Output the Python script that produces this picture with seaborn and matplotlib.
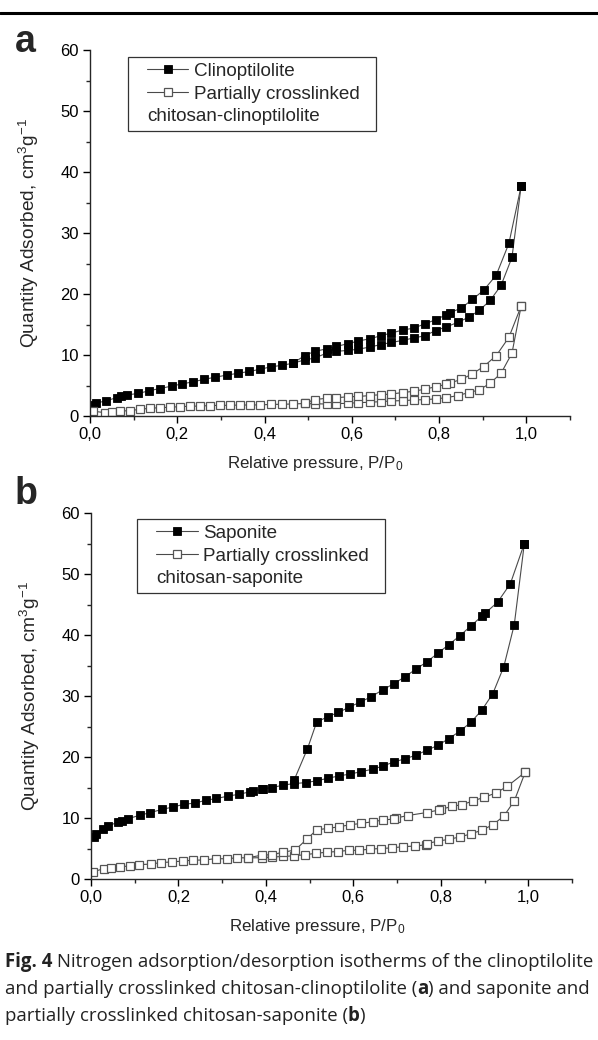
import matplotlib
matplotlib.use("Agg")
import matplotlib.pyplot as plt
import seaborn as sns
import numpy as np
import pandas as pd
from matplotlib.lines import Line2D
from matplotlib.ticker import MultipleLocator, FuncFormatter
from matplotlib.offsetbox import HPacker, DrawingArea

# ---------------- data (panel a) ----------------
clino_ads_p = [0.005, 0.014, 0.037, 0.061, 0.071, 0.084, 0.111, 0.136, 0.160, 0.187, 0.210, 0.236,
               0.261, 0.286, 0.313, 0.339, 0.365, 0.389, 0.414, 0.439, 0.465, 0.492, 0.515, 0.542,
               0.564, 0.591, 0.615, 0.641, 0.666, 0.690, 0.717, 0.742, 0.767, 0.792, 0.816, 0.843,
               0.868, 0.892, 0.917, 0.942, 0.967, 0.988]
clino_ads_q = [1.8, 2.1, 2.5, 3.0, 3.3, 3.45, 3.7, 4.15, 4.5, 4.9, 5.25, 5.6,
               6.0, 6.35, 6.7, 7.0, 7.3, 7.65, 8.05, 8.3, 8.65, 9.2, 9.5, 10.3,
               10.6, 10.75, 10.95, 11.3, 11.7, 12.05, 12.4, 12.8, 13.15, 14.0, 14.6, 15.35,
               16.2, 17.3, 18.95, 21.4, 26.0, 37.7]
clino_des_p = [0.988, 0.960, 0.931, 0.902, 0.876, 0.851, 0.824, 0.816, 0.793, 0.767, 0.742,
               0.717, 0.690, 0.666, 0.641, 0.615, 0.591, 0.564, 0.542, 0.515, 0.492, 0.465]
clino_des_q = [37.7, 28.3, 23.1, 20.6, 19.1, 17.7, 16.9, 16.6, 15.8, 15.1, 14.4,
               14.1, 13.6, 13.15, 12.65, 12.3, 11.85, 11.4, 11.0, 10.6, 9.9, 8.65]

cclino_ads_p = [0.006, 0.034, 0.050, 0.069, 0.092, 0.114, 0.137, 0.160, 0.183, 0.206, 0.229,
                0.252, 0.275, 0.297, 0.320, 0.343, 0.366, 0.389, 0.414, 0.439, 0.465, 0.492,
                0.515, 0.542, 0.564, 0.591, 0.615, 0.641, 0.666, 0.690, 0.717, 0.742, 0.767,
                0.792, 0.816, 0.843, 0.868, 0.892, 0.917, 0.942, 0.967, 0.988]
cclino_ads_q = [0.8, 0.55, 0.65, 0.82, 0.87, 1.1, 1.26, 1.37, 1.43, 1.54, 1.59,
                1.64, 1.7, 1.75, 1.75, 1.8, 1.8, 1.82, 1.9, 1.92, 1.97, 2.05,
                2.0, 1.97, 2.03, 2.08, 2.19, 2.25, 2.36, 2.47, 2.52, 2.63, 2.68,
                2.8, 3.0, 3.35, 3.84, 4.28, 5.37, 7.0, 10.3, 18.0]
cclino_des_p = [0.988, 0.960, 0.931, 0.902, 0.876, 0.851, 0.824, 0.816, 0.793, 0.767, 0.742,
                0.717, 0.690, 0.666, 0.641, 0.615, 0.591, 0.564, 0.542, 0.515, 0.492]
cclino_des_q = [18.0, 12.9, 9.9, 8.1, 6.9, 6.0, 5.4, 5.2, 4.8, 4.4, 4.05,
                3.85, 3.6, 3.5, 3.35, 3.2, 3.15, 3.0, 2.9, 2.7, 2.05]

# ---------------- data (panel b) ----------------
sapo_ads_p = [0.008, 0.011, 0.027, 0.040, 0.062, 0.070, 0.085, 0.112, 0.136, 0.162, 0.187, 0.213,
              0.238, 0.262, 0.287, 0.314, 0.339, 0.364, 0.370, 0.390, 0.394, 0.415, 0.440, 0.465,
              0.491, 0.516, 0.541, 0.567, 0.592, 0.618, 0.644, 0.667, 0.693, 0.718, 0.743, 0.768,
              0.793, 0.818, 0.843, 0.869, 0.894, 0.919, 0.944, 0.968, 0.991]
sapo_ads_q = [6.9, 7.3, 8.25, 8.7, 9.35, 9.5, 9.9, 10.45, 10.9, 11.4, 11.8, 12.25,
              12.45, 12.9, 13.2, 13.6, 13.9, 14.3, 14.45, 14.7, 14.8, 15.0, 15.4, 15.65,
              15.8, 16.1, 16.5, 16.9, 17.2, 17.6, 18.0, 18.5, 19.2, 19.7, 20.3, 21.1,
              21.9, 23.0, 24.2, 25.7, 27.7, 30.4, 34.8, 41.7, 55.0]
sapo_des_p = [0.991, 0.959, 0.930, 0.902, 0.894, 0.869, 0.844, 0.818, 0.793, 0.768, 0.743,
              0.717, 0.692, 0.667, 0.641, 0.616, 0.591, 0.566, 0.541, 0.516, 0.495, 0.465]
sapo_des_q = [55.0, 48.4, 45.4, 43.6, 43.1, 41.5, 39.9, 38.4, 37.0, 35.6, 34.4,
              33.1, 32.0, 31.0, 29.9, 29.0, 28.2, 27.3, 26.6, 25.7, 21.35, 16.3]

csapo_ads_p = [0.005, 0.030, 0.046, 0.067, 0.090, 0.110, 0.137, 0.160, 0.186, 0.210, 0.234,
               0.259, 0.285, 0.310, 0.335, 0.360, 0.390, 0.415, 0.440, 0.465, 0.490, 0.515,
               0.539, 0.564, 0.589, 0.613, 0.638, 0.663, 0.688, 0.714, 0.740, 0.765, 0.768,
               0.793, 0.818, 0.844, 0.869, 0.894, 0.919, 0.944, 0.968, 0.993]
csapo_ads_q = [1.2, 1.7, 1.85, 1.95, 2.2, 2.35, 2.45, 2.7, 2.8, 2.95, 3.1,
               3.1, 3.35, 3.3, 3.5, 3.45, 3.5, 3.6, 3.7, 3.8, 4.0, 4.2,
               4.4, 4.5, 4.7, 4.7, 4.9, 5.0, 5.1, 5.3, 5.4, 5.6, 5.8,
               6.2, 6.5, 6.9, 7.4, 8.0, 8.9, 10.3, 12.8, 17.5]
csapo_des_p = [0.993, 0.952, 0.926, 0.899, 0.874, 0.849, 0.825, 0.800, 0.795, 0.768, 0.724,
               0.698, 0.693, 0.667, 0.644, 0.618, 0.592, 0.567, 0.541, 0.516, 0.493, 0.467,
               0.440, 0.415, 0.390, 0.360]
csapo_des_q = [17.5, 15.2, 14.1, 13.4, 12.8, 12.2, 11.9, 11.4, 11.3, 10.9, 10.4,
               10.0, 9.85, 9.65, 9.4, 9.1, 8.9, 8.55, 8.3, 8.05, 6.5, 4.75,
               4.4, 4.0, 3.9, 3.5]

panel_letters = ["a", "b"]
legend_a = ["Clinoptilolite", "Partially crosslinked", "chitosan-clinoptilolite"]
legend_b = ["Saponite", "Partially crosslinked", "chitosan-saponite"]
xlabel = "Relative pressure, P/P$_0$"
ylabel = "Quantity Adsorbed, cm$^3$g$^{-1}$"
caption_lines = [
    [("Fig. 4", "bold"), (" Nitrogen adsorption/desorption isotherms of the clinoptilolite", "normal")],
    [("and partially crosslinked chitosan-clinoptilolite (", "normal"), ("a", "bold"),
     (") and saponite and", "normal")],
    [("partially crosslinked chitosan-saponite (", "normal"), ("b", "bold"), (")", "normal")],
]

# ---------------- style ----------------
sns.set_theme(style="ticks")
plt.rcParams["font.family"] = ["Liberation Sans", "DejaVu Sans"]
plt.rcParams["mathtext.default"] = "regular"
plt.rcParams["axes.linewidth"] = 1.0

W, H = 598, 1040
fig = plt.figure(figsize=(W / 100, H / 100), dpi=100)
fig.patch.set_facecolor("white")

LINE_C = "#4a4a4a"
FILLED = dict(marker="s", markersize=6.0, markerfacecolor="black", markeredgecolor="black",
              markeredgewidth=0.6)
OPEN = dict(marker="s", markersize=6.0, markerfacecolor="white", markeredgecolor="#555555",
            markeredgewidth=0.9)


def px_axes(left, top, right, bottom):
    return fig.add_axes([left / W, 1 - bottom / H, (right - left) / W, (bottom - top) / H])


def branch(ax, p, q, style):
    df = pd.DataFrame({"p": p, "q": q})
    sns.lineplot(data=df, x="p", y="q", sort=False, estimator=None, ax=ax,
                 color=LINE_C, linewidth=0.8, legend=False, **style)


def style_axes(ax):
    ax.set_xlim(0, 1.1)
    ax.set_ylim(0, 60)
    for s in ["top", "right"]:
        ax.spines[s].set_visible(False)
    ax.xaxis.set_major_locator(MultipleLocator(0.2))
    ax.xaxis.set_minor_locator(MultipleLocator(0.1))
    ax.yaxis.set_major_locator(MultipleLocator(10))
    ax.yaxis.set_minor_locator(MultipleLocator(5))
    ax.xaxis.set_major_formatter(FuncFormatter(lambda v, _: f"{v:.1f}".replace(".", ",")))
    ax.yaxis.set_major_formatter(FuncFormatter(lambda v, _: f"{v:.0f}"))
    ax.tick_params(which="major", direction="out", length=5, width=1.0, labelsize=12,
                   pad=3, colors="black")
    ax.tick_params(which="minor", direction="out", length=3, width=1.0)
    ax.set_xlabel(xlabel, fontsize=12.2)
    ax.set_ylabel(ylabel, fontsize=13.8)
    ax.xaxis.set_label_coords(0.47, -0.103)
    ax.yaxis.set_label_coords(-0.102, 0.5)
    ax.grid(False)


def make_legend(ax, labels, anchor):
    handles = [Line2D([], [], color=LINE_C, linewidth=0.8, **FILLED),
               Line2D([], [], color=LINE_C, linewidth=0.8, **OPEN),
               Line2D([], [], alpha=0)]
    leg = ax.legend(handles, labels, loc="upper left", bbox_to_anchor=anchor,
                    borderaxespad=0, fontsize=13.6, frameon=True, fancybox=False,
                    edgecolor="#333333", framealpha=1, handlelength=2.2,
                    handletextpad=0.3, labelspacing=0.3, borderpad=0.3)
    leg.get_frame().set_linewidth(0.9)
    try:
        col = leg._legend_handle_box.get_children()[0]
        row = col.get_children()[2]
        # third line continues the second label: start it at the handle position
        row._children = [row._children[1]]
        leg._legend_handle_box._children = [
            HPacker(pad=0, sep=0, align="top",
                    children=[DrawingArea(9.5, 1), col, DrawingArea(7.5, 1)])]
    except Exception:
        pass
    return leg


# ---------------- panel a ----------------
ax1 = px_axes(90, 50, 570, 416)
branch(ax1, clino_ads_p, clino_ads_q, FILLED)
branch(ax1, clino_des_p, clino_des_q, FILLED)
branch(ax1, cclino_ads_p, cclino_ads_q, OPEN)
branch(ax1, cclino_des_p, cclino_des_q, OPEN)
style_axes(ax1)
make_legend(ax1, legend_a, (0.079, 0.981))

# ---------------- panel b ----------------
ax2 = px_axes(91, 513, 572, 879)
branch(ax2, sapo_ads_p, sapo_ads_q, FILLED)
branch(ax2, sapo_des_p, sapo_des_q, FILLED)
branch(ax2, csapo_ads_p, csapo_ads_q, OPEN)
branch(ax2, csapo_des_p, csapo_des_q, OPEN)
style_axes(ax2)
make_legend(ax2, legend_b, (0.096, 0.984))

# ---------------- decorations ----------------
fig.add_artist(Line2D([0, 1], [1 - 13 / H, 1 - 13 / H], transform=fig.transFigure,
                      color="black", linewidth=2.2))
fig.text(15 / W, 1 - 52 / H, panel_letters[0], fontsize=27, fontweight="bold", ha="left",
         va="baseline")
fig.text(15 / W, 1 - 504 / H, panel_letters[1], fontsize=27, fontweight="bold", ha="left",
         va="baseline")

renderer = fig.canvas.get_renderer()
baselines = [967, 994, 1021]
for line, yb in zip(caption_lines, baselines):
    x = 5 / W
    for txt, wt in line:
        t = fig.text(x, 1 - yb / H, txt, fontsize=13.4, fontweight=wt,
                     family=["Open Sans", "DejaVu Sans"], ha="left", va="baseline",
                     color="#222222")
        bb = t.get_window_extent(renderer)
        x += bb.width / fig.bbox.width

fig.savefig("out.png", dpi=100, facecolor="white")
